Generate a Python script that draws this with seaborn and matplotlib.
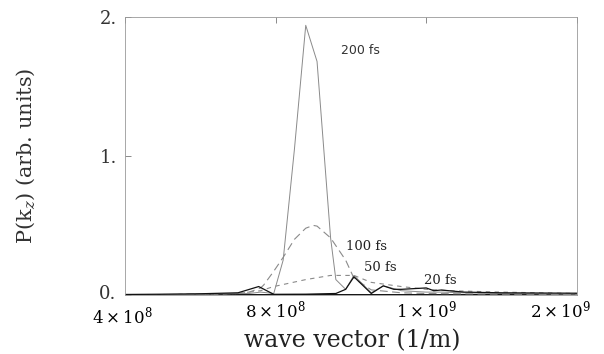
import numpy as np
import pandas as pd
import matplotlib
matplotlib.use("Agg")
import matplotlib.pyplot as plt
import matplotlib.ticker as mticker
import matplotlib.transforms as mtransforms
import seaborn as sns

# ---- data (wave vector in units of 1e8 1/m, P in arb. units) ----
k_200 = [4.0, 5.0, 6.0, 6.5, 7.0, 7.3, 7.6, 7.95, 8.1, 8.25, 8.4, 8.55, 8.73, 8.8, 8.93, 9.04, 9.27, 9.43, 9.57, 9.67, 10.0, 11.0, 12.5, 15.0, 17.5, 20.0]
p_200 = [0.0, 0.0, 0.005, 0.008, 0.01, 0.01, 0.02, 0.01, 0.25, 1.05, 1.94, 1.68, 0.41, 0.11, 0.04, 0.14, 0.015, 0.065, 0.045, 0.03, 0.02, 0.02, 0.015, 0.01, 0.008, 0.005]

k_100 = [4.0, 6.0, 7.0, 7.3, 7.6, 7.68, 7.95, 8.1, 8.25, 8.4, 8.5, 8.55, 8.73, 8.93, 9.04, 9.27, 9.67, 10.0, 12.0, 15.0, 20.0]
p_100 = [0.0, 0.005, 0.01, 0.02, 0.05, 0.07, 0.17, 0.27, 0.40, 0.48, 0.50, 0.495, 0.41, 0.25, 0.12, 0.036, 0.015, 0.01, 0.008, 0.005, 0.003]

k_50 = [4.0, 6.0, 7.0, 7.6, 7.95, 8.4, 8.73, 9.04, 9.27, 9.67, 10.0, 11.6, 15.0, 20.0]
p_50 = [0.0, 0.005, 0.01, 0.03, 0.06, 0.11, 0.14, 0.14, 0.09, 0.06, 0.04, 0.03, 0.02, 0.01]

k_20 = [4.0, 5.0, 6.0, 7.0, 7.55, 7.95, 8.4, 8.8, 8.93, 9.04, 9.27, 9.43, 9.57, 9.67, 10.0, 10.5, 11.0, 12.5, 15.0, 20.0]
p_20 = [0.003, 0.005, 0.008, 0.015, 0.06, 0.004, 0.005, 0.01, 0.04, 0.13, 0.01, 0.065, 0.04, 0.04, 0.05, 0.03, 0.035, 0.02, 0.015, 0.012]

x_ticks = [4e8, 8e8, 1e9, 2e9]
x_tick_labels = [r"$4\times10^{8}$", r"$8\times10^{8}$", r"$1\times10^{9}$", r"$2\times10^{9}$"]
y_ticks = [0, 1, 2]
y_tick_labels = ["0.", "1.", "2."]

series = [
    ("200 fs", k_200, p_200),
    ("100 fs", k_100, p_100),
    ("50 fs", k_50, p_50),
    ("20 fs", k_20, p_20),
]

sns.set_style("white")
plt.rcParams["font.family"] = ["DejaVu Serif"]
plt.rcParams["mathtext.fontset"] = "dejavuserif"

fig = plt.figure(figsize=(6.04, 3.54), dpi=100)
ax = fig.add_axes([0.207, 0.167, 0.748, 0.785])

# evenly spaced (piecewise linear) wave-vector axis as in the original
K_knots = np.array([0.0, 4e8, 8e8, 1e9, 2e9, 1e11])
P_knots = np.array([-1.0, 0.0, 1.0, 2.0, 3.0, 101.0])

def fwd(x):
    return np.interp(x, K_knots, P_knots)

def inv(p):
    return np.interp(p, P_knots, K_knots)

ax.set_xscale("function", functions=(fwd, inv))

styles = {
    "200 fs": dict(color="#8a8a8a", lw=0.7, ls="-"),
    "100 fs": dict(color="#8a8a8a", lw=0.8, ls=(0, (7, 4))),
    "50 fs": dict(color="#8a8a8a", lw=0.8, ls=(0, (4, 4))),
    "20 fs": dict(color="#111111", lw=0.9, ls="-"),
}

for name, k, p in series:
    df = pd.DataFrame({"k": np.array(k) * 1e8, "P": p})
    st = styles[name]
    sns.lineplot(data=df, x="k", y="P", ax=ax, color=st["color"],
                 linewidth=st["lw"], linestyle=st["ls"], sort=False, legend=False)

# baseline thick black
ax.axhline(0, color="black", lw=1.3, zorder=1)

ax.set_xlim(4e8, 2e9)
ax.set_ylim(0, 2)
ax.xaxis.set_major_locator(mticker.FixedLocator(x_ticks))
ax.xaxis.set_major_formatter(mticker.FixedFormatter(x_tick_labels))
ax.xaxis.set_minor_locator(mticker.NullLocator())
ax.set_yticks(y_ticks)
ax.set_yticklabels(y_tick_labels)

ax.tick_params(axis="x", direction="in", length=4, width=0.6, colors="#777777",
               labelcolor="black", labelsize=12, pad=3, top=True, bottom=False)
ax.tick_params(axis="y", direction="in", length=4, width=0.6, colors="#777777",
               labelcolor="#333333", labelsize=13, pad=6, left=True)

for s in ax.spines.values():
    s.set_color("#999999")
    s.set_linewidth(0.6)

fig.canvas.draw()
xt = ax.get_xticklabels()
xt[-1].set_horizontalalignment("right")
xt[-1].set_transform(xt[-1].get_transform() +
                     mtransforms.ScaledTranslation(14 / 100, 0, fig.dpi_scale_trans))
xt[0].set_transform(xt[0].get_transform() +
                    mtransforms.ScaledTranslation(-3 / 100, -6 / 100, fig.dpi_scale_trans))
yt = ax.get_yticklabels()
yt[0].set_transform(yt[0].get_transform() +
                    mtransforms.ScaledTranslation(0, 3 / 100, fig.dpi_scale_trans))

ax.set_xlabel("wave vector (1/m)", fontsize=17, color="#222222")
ax.xaxis.set_label_coords(0.504, -0.125)
ax.set_ylabel(r"P(k$_z$) (arb. units)", fontsize=15, color="#333333")
ax.yaxis.set_label_coords(-0.195, 0.5)

# curve labels
ax.text(8.867e8, 1.76, "200 fs", fontsize=9, family="DejaVu Sans", va="center", ha="left", color="#333333")
ax.text(8.933e8, 0.35, "100 fs", fontsize=9.5, va="center", ha="left", color="#222222")
ax.text(9.173e8, 0.20, "50 fs", fontsize=9.5, va="center", ha="left", color="#222222")
ax.text(9.973e8, 0.10, "20 fs", fontsize=9.5, va="center", ha="left", color="#222222")

fig.savefig("out.png", dpi=100)
